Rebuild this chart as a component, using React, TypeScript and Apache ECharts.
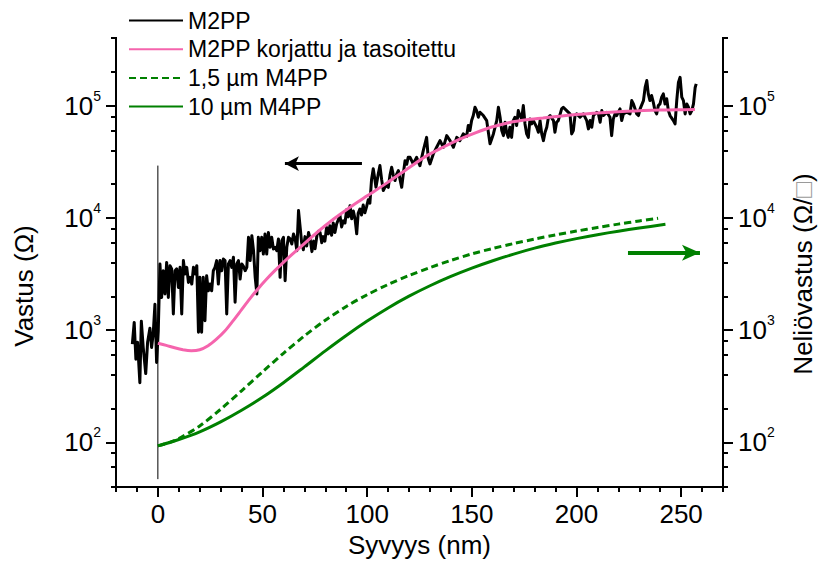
import React, { useEffect, useRef } from 'react';
import * as echarts from 'echarts';

const FONT = '"Liberation Sans", Arial, Helvetica, sans-serif';

// Axis ranges and tick values
const xRange = [-20, 270];
const yRange = [40, 400000];
const xLabelValues = [0, 50, 100, 150, 200, 250];
const xMinorValues = [-20, -10, 10, 20, 30, 40, 60, 70, 80, 90, 110, 120, 130, 140, 160, 170, 180, 190, 210, 220, 230, 240, 260, 270];
const yDecades = [100, 1000, 10000, 100000];
const yMinorValues = [40, 60, 80, 200, 400, 600, 800, 2000, 4000, 6000, 8000, 20000, 40000, 60000, 80000, 200000, 400000];

// M2PP raw measurement [depth nm, resistance Ω]
const m2pp: [number, number][] = [
  [-12.2, 750], [-11.3, 1170], [-10.5, 550], [-9.7, 780], [-8.6, 340], [-7.9, 1200], [-7.0, 700], [-5.8, 410], [-4.9, 780], [-3.8, 1040], [-3.0, 700], [-2.2, 940], [-1.4, 1700], [-0.6, 515], [0.2, 990],
  [1.0, 3880], [1.8, 1950], [2.6, 3380], [3.4, 2100], [4.2, 4010], [5.0, 1950], [5.8, 3750], [6.6, 3500], [7.4, 1390], [8.2, 3380],
  [9.0, 3510], [9.8, 2400], [10.6, 3620], [11.4, 1390], [12.2, 4160], [13.0, 3160], [13.8, 3620], [14.6, 2660], [15.4, 2950], [16.2, 2570],
  [17.0, 3620], [17.8, 3160], [18.6, 3750], [19.4, 955], [20.1, 2950], [20.9, 955], [21.7, 2950], [22.5, 1210], [23.3, 3050], [24.1, 2240],
  [24.9, 2570], [25.7, 2240], [26.5, 3380], [27.3, 3620], [28.1, 4160], [28.9, 2570], [29.7, 4160], [30.5, 3380], [31.3, 4300], [32.1, 4160],
  [32.9, 1390], [33.7, 3880], [34.5, 4160], [35.3, 3620], [36.1, 4450], [36.9, 1770], [37.7, 3880], [38.5, 4160], [39.3, 2850], [40.1, 3880],
  [40.9, 3700], [41.7, 3380], [42.5, 3620], [43.3, 6700], [44.1, 4160], [44.9, 6940], [45.7, 5100], [46.5, 2950], [47.3, 2100], [48.0, 6700],
  [48.8, 5100], [49.6, 6700], [50.4, 4760], [51.2, 7180], [52.0, 4760], [52.8, 7400], [53.6, 5460], [54.4, 6700], [55.2, 5280], [56.0, 5460],
  [56.8, 5100], [57.6, 6490], [58.4, 2950], [59.2, 6270], [60.0, 6700], [60.8, 2750], [61.6, 5460], [62.4, 6700], [63.2, 6490], [64.0, 5850],
  [64.8, 7180], [65.6, 6490], [66.4, 5100], [67.2, 11600],
  [68.7, 6000], [69.5, 5200], [70.3, 6800], [71.1, 5600], [72.0, 7400], [72.7, 6600], [73.6, 5000], [74.4, 6200], [75.1, 5300], [76.0, 7000],
  [76.7, 7600], [77.5, 7400], [78.3, 6000], [79.0, 6800], [79.8, 6200], [80.6, 8200], [81.4, 7200], [82.2, 8500], [83.0, 7000], [83.8, 9000],
  [84.6, 7400], [85.4, 8800], [86.2, 9600], [87.0, 10500], [87.8, 8300], [88.6, 9400], [89.4, 9000], [90.2, 11800], [91.0, 10200], [91.8, 12800],
  [92.6, 9800], [93.4, 11500], [94.2, 9800], [95.0, 7200], [95.7, 11000], [96.5, 12000], [97.3, 10600], [98.1, 13000], [98.9, 11100], [99.7, 12500],
  [100.5, 14500], [101.3, 13500], [102.1, 22000], [102.9, 27400], [103.6, 22500], [104.2, 18700], [105.2, 24000], [106.1, 29200], [106.9, 22000], [107.7, 17500],
  [108.9, 19500], [110.1, 18700], [110.9, 24000], [111.7, 28200], [112.5, 24000], [113.3, 21500], [114.1, 24500], [114.9, 26400], [115.7, 22000], [116.5, 18700],
  [117.3, 25000], [118.1, 32300], [118.9, 30000], [119.6, 34600],
  [120.5, 34600], [122.0, 30200], [123.6, 34600], [125.2, 29200], [126.8, 39700], [128.4, 52100], [129.2, 33500], [130.0, 30200], [131.6, 37100], [133.2, 42500],
  [134.8, 48700], [136.4, 42500], [138.0, 54000], [139.6, 48700], [141.2, 42500], [142.8, 52100], [144.3, 48700], [145.9, 55900], [147.5, 53000], [148.3, 66400],
  [149.1, 59900], [149.9, 73500], [150.7, 81500], [151.5, 96600], [152.3, 90200], [153.1, 78700], [153.9, 87200], [155.5, 81500], [157.1, 73500], [157.9, 57800],
  [158.7, 45600], [159.5, 50400], [160.3, 55900], [161.9, 73500], [162.7, 96600], [163.5, 78700], [164.3, 59900], [165.1, 54000], [165.9, 71000], [166.6, 57800],
  [167.4, 52100], [168.2, 64100], [169.0, 52100], [169.8, 73500], [170.6, 78700], [171.4, 66400], [172.2, 90200], [173.0, 81500], [173.8, 76100], [174.6, 100000],
  [175.4, 68700], [176.2, 55900], [177.0, 52100], [177.8, 76100], [178.6, 68700], [179.4, 73500], [181.0, 64100], [181.8, 57800], [182.6, 73500], [183.4, 55900],
  [184.2, 48700], [185.0, 57800], [185.8, 64100], [186.6, 78700], [187.4, 81500], [189.0, 73500], [189.7, 57800], [190.5, 71000], [191.3, 73500], [192.9, 93500],
  [193.7, 96600], [195.3, 90200], [196.9, 84300], [197.7, 55900], [198.5, 59900], [199.3, 81500], [200.1, 84300], [201.7, 78700], [203.3, 84300], [204.9, 73500],
  [205.7, 62000], [206.5, 73500], [207.3, 64100], [208.1, 81500], [209.7, 87200], [210.5, 84300], [211.3, 71000], [212.1, 90200], [212.9, 81500], [214.5, 87200],
  [216.0, 78700], [216.8, 54000], [217.6, 76100], [218.4, 84300], [219.2, 81500], [220.8, 93500], [221.6, 73500], [222.4, 84300], [224.0, 87200], [225.6, 84300],
  [226.4, 110800], [227.2, 103500], [228.8, 84300], [229.6, 81500], [230.4, 93500], [232.0, 110800], [232.8, 145000], [233.6, 167000], [234.3, 127000], [235.1, 110800],
  [235.9, 123000], [236.7, 107000], [237.5, 90200], [238.3, 84300], [239.1, 100000], [239.9, 103500], [240.7, 119000], [241.5, 127000], [242.3, 103500], [243.1, 115000],
  [243.9, 90200], [244.7, 81500], [246.3, 73500], [247.1, 68700], [247.9, 110800], [248.7, 161000], [249.5, 178600], [250.3, 119000], [251.1, 110800], [251.9, 84300],
  [252.7, 103500], [253.5, 96600], [254.3, 84300], [255.1, 90200], [255.9, 103500], [256.7, 145000], [257.2, 156000],
];

// M2PP corrected and smoothed
const m2ppCorrected: [number, number][] = [
  [0, 762], [4, 730], [8, 695], [12, 668], [16, 655], [20, 668], [24, 725], [28, 830], [32, 980], [36, 1213],
  [40, 1520], [44, 1905], [48, 2350], [52, 2850], [56, 3400], [60, 4015], [64, 4700], [68, 5460], [76, 7400], [84, 9750],
  [92, 12500], [100, 15700], [110, 20800], [120, 28000], [128, 35300], [136, 42300], [144, 50000], [152, 57500], [160, 64800], [168, 70800],
  [176, 74800], [184, 77600], [192, 80500], [200, 83100], [208, 85300], [216, 87200], [224, 88800], [232, 90200], [240, 91200], [248, 91800], [256.6, 92100],
];

// 1,5 µm M4PP sheet resistance [depth nm, Ω/□]
const m4pp15: [number, number][] = [
  [0, 93], [5, 99], [10, 108], [20, 140], [30, 197], [40, 288], [50, 425], [60, 621], [70, 887], [80, 1225],
  [90, 1622], [100, 2065], [110, 2547], [120, 3062], [130, 3606], [140, 4178], [150, 4775], [160, 5333], [170, 5902], [180, 6471],
  [190, 7047], [200, 7621], [210, 8204], [220, 8790], [230, 9376], [239, 9908],
];

// 10 µm M4PP sheet resistance
const m4pp10: [number, number][] = [
  [0, 93], [10, 106], [20, 124], [30, 152], [40, 193], [50, 252], [60, 340], [70, 470], [80, 653], [90, 895],
  [100, 1202], [110, 1574], [120, 2004], [130, 2483], [140, 3006], [150, 3565], [160, 4150], [170, 4753], [180, 5370], [190, 5957],
  [200, 6531], [210, 7079], [220, 7603], [230, 8110], [242.5, 8750],
];

const zeroLine: [number, number][] = [[0, 47], [0, 29200]];
const leftArrow: [number, number][] = [[97.5, 30400], [60.7, 30400]];
const rightArrow: [number, number][] = [[224.6, 4890], [259, 4890]];

// Open frame: left axis, bottom axis, right axis (no top edge)
const frameOutline: [number, number][] = [
  [xRange[0], yRange[1]], [xRange[0], yRange[0]], [xRange[1], yRange[0]], [xRange[1], yRange[1]],
];

export default function App() {
  const ref = useRef<HTMLDivElement>(null);
  useEffect(() => {
    const chart = echarts.init(ref.current!, null, { renderer: 'svg' });
    const yMinL = Math.log10(yRange[0]);
    const yMaxL = Math.log10(yRange[1]);
    const black = '#000';
    const mkLine = () => ({ show: true, onZero: false, lineStyle: { color: black, width: 2 } });
    const noLine = () => ({ show: false, onZero: false });
    const rich = {
      b: { fontSize: 26, lineHeight: 34, fontFamily: FONT, color: black },
      s: { fontSize: 14, lineHeight: 14, verticalAlign: 'top', fontFamily: FONT, color: black },
    };
    const makeY = (position: string) => [
      {
        type: 'log', position, min: yRange[0], max: yRange[1], logBase: 10,
        axisLine: mkLine(), axisTick: { show: false }, axisLabel: { show: false }, splitLine: { show: false },
      },
      {
        type: 'value', position, min: yMinL, max: yMaxL,
        axisLine: noLine(),
        axisTick: { show: true, length: 10, lineStyle: { color: black, width: 2 }, customValues: yDecades.map((v) => Math.log10(v)) },
        axisLabel: {
          show: true, customValues: yDecades.map((v) => Math.log10(v)),
          formatter: (v: number) => `{b|10}{s|${Math.round(v)}}`, rich, margin: 15,
        },
        splitLine: { show: false },
      },
      {
        type: 'value', position, min: yMinL, max: yMaxL,
        axisLine: noLine(),
        axisTick: { show: true, length: 5, lineStyle: { color: black, width: 2 }, customValues: yMinorValues.map((v) => Math.log10(v)) },
        axisLabel: { show: false }, splitLine: { show: false },
      },
    ];

    chart.setOption({
      animation: false,
      backgroundColor: '#fff',
      grid: { left: 116, right: 97, top: 38, bottom: 84, containLabel: false, outerBoundsMode: 'none' },
      legend: {
        orient: 'vertical', left: 128, top: 9, padding: 0,
        itemWidth: 54, itemHeight: 14, itemGap: 5.7,
        data: ['M2PP', 'M2PP korjattu ja tasoitettu', '1,5 µm M4PP', '10 µm M4PP'],
        textStyle: { fontSize: 23, lineHeight: 23, fontFamily: FONT, color: black },
        itemStyle: { opacity: 0 },
        selectedMode: false,
      },
      xAxis: [
        {
          type: 'value', position: 'bottom', min: xRange[0], max: xRange[1],
          axisLine: mkLine(),
          axisTick: { show: true, length: 10, lineStyle: { color: black, width: 2 }, customValues: xLabelValues },
          axisLabel: { show: true, customValues: xLabelValues, fontSize: 26, fontFamily: FONT, color: black, margin: 14 },
          splitLine: { show: false },
          name: 'Syvyys (nm)', nameLocation: 'middle', nameGap: 40,
          nameTextStyle: { fontSize: 26, fontFamily: FONT, color: black },
        },
        {
          type: 'value', position: 'bottom', min: xRange[0], max: xRange[1],
          axisLine: noLine(),
          axisTick: { show: true, length: 5, lineStyle: { color: black, width: 2 }, customValues: xMinorValues },
          axisLabel: { show: false }, splitLine: { show: false },
        },
      ],
      yAxis: [...makeY('left'), ...makeY('right')],
      graphic: [
        {
          type: 'text', x: 24, y: 286, rotation: Math.PI / 2,
          style: { text: 'Vastus (Ω)', fontSize: 26, fontFamily: FONT, fill: black, align: 'center', verticalAlign: 'middle' },
        },
        {
          type: 'text', x: 803, y: 274, rotation: Math.PI / 2,
          style: {
            text: '{a|Neliövastus (Ω/}{g|□}{a|)}',
            align: 'center', verticalAlign: 'middle',
            rich: {
              a: { fontSize: 26, fontFamily: FONT, fill: black },
              g: { fontSize: 26, fontFamily: FONT, fill: '#9a9a9a' },
            },
          },
        },
      ],
      series: [
        {
          name: 'frame', type: 'line', data: frameOutline, xAxisIndex: 0, yAxisIndex: 0,
          symbol: 'none', silent: true, clip: false, z: 5,
          lineStyle: { color: black, width: 2, cap: 'square', join: 'miter' }, color: black,
        },
        {
          name: 'zero', type: 'line', data: zeroLine, xAxisIndex: 0, yAxisIndex: 0,
          symbol: 'none', silent: true, lineStyle: { color: black, width: 1 }, color: black,
        },
        {
          name: 'M2PP', type: 'line', data: m2pp, xAxisIndex: 0, yAxisIndex: 0,
          symbol: 'none', color: black, lineStyle: { color: black, width: 3, join: 'round' },
          markLine: {
            silent: true, symbol: ['none', 'arrow'], symbolSize: [11, 14],
            label: { show: false },
            lineStyle: { color: black, width: 3, type: 'solid' },
            data: [[{ coord: leftArrow[0] }, { coord: leftArrow[1] }]],
          },
        },
        {
          name: 'M2PP korjattu ja tasoitettu', type: 'line', data: m2ppCorrected, xAxisIndex: 0, yAxisIndex: 0,
          symbol: 'none', smooth: 0.3, color: '#f564ad', lineStyle: { color: '#f564ad', width: 3 },
        },
        {
          name: '1,5 µm M4PP', type: 'line', data: m4pp15, xAxisIndex: 0, yAxisIndex: 3,
          symbol: 'none', smooth: 0.3, color: '#008000', lineStyle: { color: '#008000', width: 3, type: [7, 4] },
        },
        {
          name: '10 µm M4PP', type: 'line', data: m4pp10, xAxisIndex: 0, yAxisIndex: 3,
          symbol: 'none', smooth: 0.3, color: '#008000', lineStyle: { color: '#008000', width: 3 },
          markLine: {
            silent: true, symbol: ['none', 'arrow'], symbolSize: [12, 18],
            label: { show: false },
            lineStyle: { color: '#008000', width: 4, type: 'solid' },
            data: [[{ coord: rightArrow[0] }, { coord: rightArrow[1] }]],
          },
        },
      ],
    });
    return () => chart.dispose();
  }, []);

  return (
    <div
      ref={ref}
      style={{ position: 'fixed', left: 0, top: 0, width: 820, height: 571, background: '#fff' }}
    />
  );
}
